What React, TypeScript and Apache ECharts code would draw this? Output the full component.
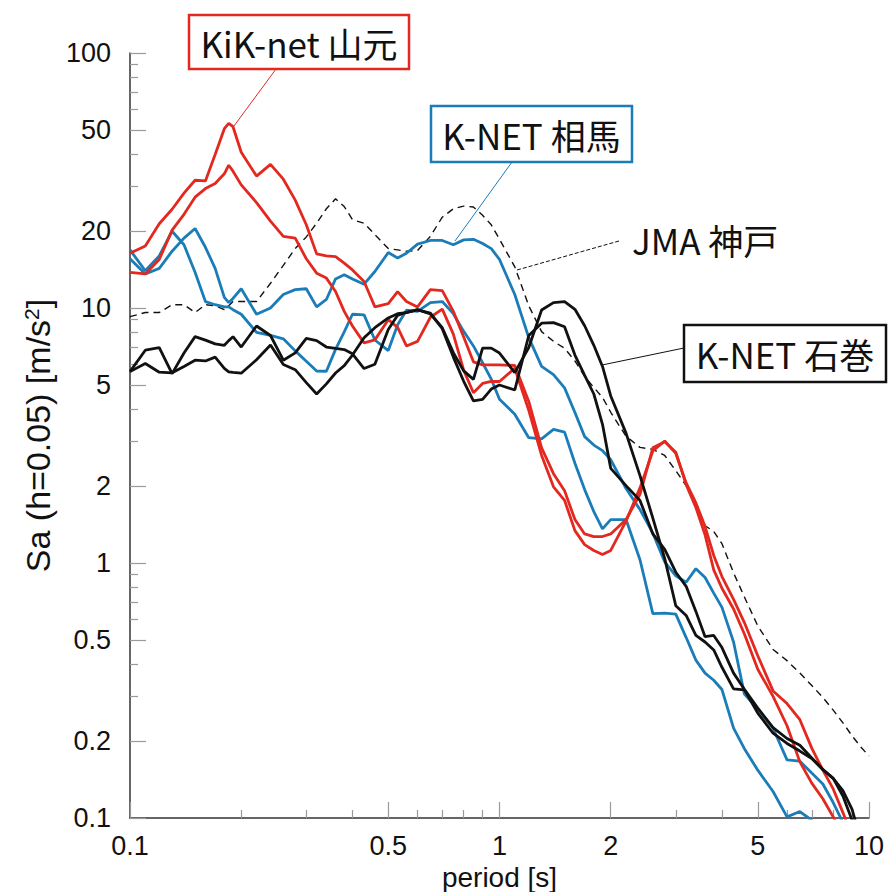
import React, { useEffect, useRef } from 'react';
import * as echarts from 'echarts';

// Periods [s] shared by all spectra
const periods = [
  0.1, 0.11, 0.12, 0.13, 0.14, 0.15, 0.16, 0.17, 0.18, 0.185, 0.19,
  0.2, 0.22, 0.24, 0.26, 0.28, 0.3, 0.32, 0.34, 0.36, 0.38,
  0.4, 0.43, 0.46, 0.5, 0.53, 0.56, 0.6, 0.65, 0.7, 0.75, 0.8, 0.85, 0.9, 0.95,
  1.0, 1.1, 1.2, 1.3, 1.4, 1.5, 1.6, 1.7, 1.8, 1.9,
  2.0, 2.2, 2.4, 2.6, 2.8, 3.0, 3.2, 3.4, 3.6, 3.8,
  4.0, 4.3, 4.6, 5.0, 5.5, 6.0, 6.5, 7.0, 7.5, 8.0, 8.5, 9.0, 9.5, 10,
];

// KiK-net 山元 (two components)
const yamamotoA = [
  16.4, 17.5, 21.4, 24.4, 28.2, 31.7, 31.5, 40, 50.5, 53.0, 51.4,
  40.8, 32.9, 36.6, 32, 26.5, 21.2, 16.3, 16.0, 15.9, 15.0,
  14.1, 12.7, 10.1, 10.4, 11.6, 10.6, 10.1, 11.8, 11.7, 9.7, 7.7, 6.15, 5.98, 5.98,
  5.98, 5.95, 4.3, 2.83, 2.24, 1.92, 1.48, 1.30, 1.27, 1.27,
  1.30, 1.48, 1.86, 2.83, 2.99, 2.72, 2.03, 1.65, 1.29, 0.94,
  0.796, 0.66, 0.527, 0.383, 0.30, 0.23, 0.166, 0.137, 0.119, 0.101, 0.086, 0.07, null, null,
];
const yamamotoB = [
  13.8, 13.6, 15.5, 20.2, 23.3, 27.2, 29.4, 30.8, 33.6, 36.3, 34.4,
  30.4, 25.9, 21.9, 19.1, 18.8, 15.6, 13.7, 13.1, 11.6, 9.7,
  8.5, 7.3, 7.5, 9.0, 8.4, 7.1, 7.4, 9.2, 9.9, 7.9, 5.7, 4.65, 5.06, 5.15,
  5.15, 5.8, 3.97, 2.64, 1.99, 1.76, 1.34, 1.18, 1.12, 1.08,
  1.12, 1.46, 1.97, 2.75, 3.01, 2.69, 2.06, 1.72, 1.39, 1.07,
  0.885, 0.72, 0.584, 0.433, 0.315, 0.281, 0.243, 0.188, 0.154, 0.13, 0.105, 0.085, null, null,
];

// K-NET 相馬
const somaA = [
  16.9, 14.0, 16.0, 20.0, 17.7, 13.8, 10.6, 10.3, 10.1, 10.1, 9.85,
  9.45, 8.03, 7.81, 7.57, 6.79, 6.18, 5.66, 5.65, 6.88, 8.06,
  9.45, 9.4, 7.49, 6.81, 8.6, 9.8, 9.7, 10.5, 10.6, 9.5, 8.1, 7.1, 6.1, 5.26,
  4.39, 3.83, 3.1, 3.07, 3.34, 3.26, 2.46, 1.94, 1.59, 1.36,
  1.48, 1.48, 1.03, 0.633, 0.636, 0.63, 0.51, 0.416, 0.37, 0.347,
  0.319, 0.225, 0.187, 0.154, 0.127, 0.101, 0.106, 0.098, 0.085, 0.07, null, null, null, null,
];
const somaB = [
  15.6, 13.6, 14.3, 16.7, 18.8, 20.5, 17.3, 14.3, 11.0, 10.5, 10.9,
  11.9, 9.45, 10.0, 11.3, 11.8, 11.9, 10.1, 10.8, 13.0, 13.5,
  13.0, 12.4, 13.9, 16.5, 15.7, 16.4, 17.8, 18.4, 18.4, 17.7, 18.5, 18.6, 17.9, 17.1,
  15.5, 11.3, 7.65, 5.9, 5.48, 4.86, 3.89, 3.13, 2.9, 2.76,
  2.54, 1.96, 1.62, 1.31, 1.01, 0.89, 0.84, 0.95, 0.877, 0.762,
  0.67, 0.49, 0.306, 0.268, 0.225, 0.169, 0.167, 0.15, 0.136, 0.115, 0.096, 0.08, null, null,
];

// K-NET 石巻
const ishinomakiA = [
  5.63, 6.83, 6.99, 5.53, 6.66, 7.72, 7.48, 7.23, 7.14, 7.45, 7.72,
  7.03, 8.5, 7.8, 6.24, 6.67, 7.6, 7.45, 7.03, 6.94, 6.87,
  6.61, 5.79, 6.02, 8.24, 9.36, 9.62, 9.84, 9.55, 8.3, 6.42, 5.16, 4.32, 4.38, 4.81,
  4.99, 4.77, 7.8, 8.72, 8.76, 8.44, 6.54, 5.44, 4.6, 3.5,
  2.35, 2.01, 1.76, 1.30, 1.13, 0.92, 0.81, 0.646, 0.514, 0.52,
  0.466, 0.37, 0.32, 0.27, 0.226, 0.205, 0.193, 0.172, 0.155, 0.143, 0.128, 0.108, 0.082, null,
];
const ishinomakiB = [
  5.63, 6.06, 5.6, 5.57, 5.9, 6.24, 6.2, 6.42, 5.8, 5.62, 5.59,
  5.55, 6.27, 7.16, 6.0, 5.73, 5.1, 4.6, 5.04, 5.56, 5.94,
  6.54, 7.64, 8.37, 9.14, 9.5, 9.6, 9.85, 9.47, 8.37, 6.68, 5.67, 5.25, 6.96, 6.96,
  6.66, 5.58, 7.0, 9.82, 10.5, 10.6, 9.88, 8.52, 7.14, 5.9,
  4.52, 3.23, 2.2, 1.5, 1.04, 0.68, 0.623, 0.52, 0.49, 0.456,
  0.39, 0.321, 0.318, 0.258, 0.215, 0.196, 0.183, 0.171, 0.155, 0.143, 0.122, 0.098, null, null,
];

// JMA 神戸
const kobe = [
  9.25, 9.6, 9.6, 10.3, 10.3, 9.6, 10.3, 10.2, 9.85, 10.2, 10.6,
  10.6, 10.6, 12.5, 14.7, 17.1, 19, 21.5, 24.5, 26.8, 25,
  22.2, 21.5, 19.4, 17.1, 16.9, 16.7, 16.8, 19.1, 22.7, 24.5, 25.1, 24.9, 23.1, 21.2,
  18.6, 14.5, 10.2, 8.08, 7.4, 6.95, 6.2, 5.39, 4.88, 4.46,
  3.9, 3.14, 2.84, 2.79, 2.64, 2.3, 2.01, 1.73, 1.4, 1.33,
  1.19, 0.915, 0.736, 0.567, 0.458, 0.414, 0.37, 0.331, 0.297, 0.265, 0.236, 0.21, 0.19, 0.175,
];

const xMajorTicks = [0.1, 0.5, 1, 2, 5, 10];
const xMinorTicks = [0.2, 0.3, 0.4, 0.6, 0.7, 0.8, 0.9, 3, 4, 6, 7, 8, 9];
const yMajorTicks = [0.1, 0.2, 0.5, 1, 2, 5, 10, 20, 50, 100];
const yMinorTicks = [0.3, 0.4, 0.6, 0.7, 0.8, 0.9, 3, 4, 6, 7, 8, 9, 30, 40, 60, 70, 80, 90];

const RED = '#e3291f';
const BLUE = '#1b7db8';
const BLACK = '#111111';
const TICK = '#9a9a9a';
const AXIS = '#333333';
const LATIN = '"Liberation Sans", Arial, sans-serif';
const JP = '"Noto Sans CJK JP", "Noto Sans", sans-serif';

function pairs(vals: (number | null)[]) {
  const out: number[][] = [];
  periods.forEach((p, i) => {
    const v = vals[i];
    if (v != null) out.push([p, v]);
  });
  return out;
}

function fmt(v: number) {
  return String(Number(Number(v).toPrecision(3)));
}

function lineSeries(name: string, vals: (number | null)[], color: string, dashed = false) {
  return {
    name,
    type: 'line',
    xAxisIndex: 0,
    yAxisIndex: 0,
    data: pairs(vals),
    showSymbol: false,
    symbol: 'none',
    clip: true,
    lineStyle: dashed
      ? { color, width: 1.4, type: [7, 5] }
      : { color, width: 2.8 },
    z: dashed ? 2 : 3,
  };
}

export default function App() {
  const ref = useRef<HTMLDivElement>(null);

  useEffect(() => {
    if (!ref.current) return;
    const chart = echarts.init(ref.current, undefined, { renderer: 'svg' });
    const option: any = {
      animation: false,
      backgroundColor: '#ffffff',
      grid: { left: 130, right: 23, top: 53, bottom: 74, containLabel: false, outerBoundsMode: 'none' },
      xAxis: [
        {
          type: 'log',
          logBase: 10,
          min: 0.1,
          max: 10,
          position: 'bottom',
          name: 'period [s]',
          nameLocation: 'middle',
          nameGap: 42,
          nameTextStyle: { fontFamily: LATIN, fontSize: 28, color: BLACK },
          axisLine: { show: true, lineStyle: { color: AXIS, width: 1.5 } },
          axisTick: { show: true, inside: true, length: 16, customValues: xMajorTicks, lineStyle: { color: TICK, width: 1.2 } },
          axisLabel: { show: true, customValues: xMajorTicks, formatter: fmt, margin: 14, fontFamily: LATIN, fontSize: 27, color: BLACK },
          splitLine: { show: false },
          minorTick: { show: false },
        },
        {
          type: 'log',
          logBase: 10,
          min: 0.1,
          max: 10,
          position: 'bottom',
          axisLine: { show: false },
          axisTick: { show: true, inside: true, length: 8, customValues: xMinorTicks, lineStyle: { color: TICK, width: 1.2 } },
          axisLabel: { show: false },
          splitLine: { show: false },
        },
      ],
      yAxis: [
        {
          type: 'log',
          logBase: 10,
          min: 0.1,
          max: 100,
          position: 'left',
          name: '{n|Sa (h=0.05) [m/s}{s|2}{n|]}',
          nameLocation: 'middle',
          nameGap: 68,
          nameRotate: 90,
          nameTextStyle: {
            color: BLACK,
            rich: {
              n: { fontFamily: LATIN, fontSize: 34, color: BLACK },
              s: { fontFamily: LATIN, fontSize: 21, color: BLACK, verticalAlign: 'top' },
            },
          },
          axisLine: { show: true, lineStyle: { color: AXIS, width: 1.5 } },
          axisTick: { show: true, inside: true, length: 16, customValues: yMajorTicks, lineStyle: { color: TICK, width: 1.2 } },
          axisLabel: { show: true, customValues: yMajorTicks, formatter: fmt, margin: 19, fontFamily: LATIN, fontSize: 27, color: BLACK },
          splitLine: { show: false },
        },
        {
          type: 'log',
          logBase: 10,
          min: 0.1,
          max: 100,
          position: 'left',
          axisLine: { show: false },
          axisTick: { show: true, inside: true, length: 8, customValues: yMinorTicks, lineStyle: { color: TICK, width: 1.2 } },
          axisLabel: { show: false },
          splitLine: { show: false },
        },
      ],
      series: [
        lineSeries('JMA 神戸', kobe, BLACK, true),
        lineSeries('K-NET 相馬 A', somaA, BLUE),
        lineSeries('K-NET 相馬 B', somaB, BLUE),
        lineSeries('KiK-net 山元 A', yamamotoA, RED),
        lineSeries('KiK-net 山元 B', yamamotoB, RED),
        lineSeries('K-NET 石巻 A', ishinomakiA, BLACK),
        lineSeries('K-NET 石巻 B', ishinomakiB, BLACK),
      ],
      graphic: [
        // KiK-net 山元
        { type: 'line', z: 100, shape: { x1: 276, y1: 69, x2: 234, y2: 126 }, style: { stroke: RED, lineWidth: 1 } },
        { type: 'rect', z: 100, shape: { x: 189, y: 15, width: 220, height: 54 }, style: { fill: '#ffffff', stroke: RED, lineWidth: 2.5 } },
        { type: 'text', z: 101, x: 299, y: 42, style: { text: 'KiK-net 山元', fontFamily: JP, fontSize: 35, fill: BLACK, align: 'center', verticalAlign: 'middle', textAlign: 'center', textVerticalAlign: 'middle' } },
        // K-NET 相馬
        { type: 'line', z: 100, shape: { x1: 512, y1: 162, x2: 455, y2: 241 }, style: { stroke: BLUE, lineWidth: 1 } },
        { type: 'rect', z: 100, shape: { x: 431, y: 106, width: 201, height: 56 }, style: { fill: '#ffffff', stroke: BLUE, lineWidth: 2.5 } },
        { type: 'text', z: 101, x: 531.5, y: 134, style: { text: 'K-NET 相馬', fontFamily: JP, fontSize: 35, fill: BLACK, align: 'center', verticalAlign: 'middle', textAlign: 'center', textVerticalAlign: 'middle' } },
        // JMA 神戸
        { type: 'line', z: 100, shape: { x1: 619, y1: 241, x2: 517, y2: 270 }, style: { stroke: BLACK, lineWidth: 1, lineDash: [4, 2] } },
        { type: 'text', z: 101, x: 632, y: 239, style: { text: 'JMA 神戸', fontFamily: JP, fontSize: 35, fill: BLACK, align: 'left', verticalAlign: 'middle', textAlign: 'left', textVerticalAlign: 'middle' } },
        // K-NET 石巻
        { type: 'line', z: 100, shape: { x1: 684, y1: 348, x2: 602, y2: 365 }, style: { stroke: BLACK, lineWidth: 1 } },
        { type: 'rect', z: 100, shape: { x: 684, y: 325, width: 202, height: 57 }, style: { fill: '#ffffff', stroke: BLACK, lineWidth: 2.5 } },
        { type: 'text', z: 101, x: 785, y: 353.5, style: { text: 'K-NET 石巻', fontFamily: JP, fontSize: 35, fill: BLACK, align: 'center', verticalAlign: 'middle', textAlign: 'center', textVerticalAlign: 'middle' } },
      ],
    };
    chart.setOption(option);
    return () => {
      chart.dispose();
    };
  }, []);

  return (
    <div
      ref={ref}
      style={{ position: 'fixed', left: 0, top: 0, width: 892, height: 892, background: '#fff' }}
    />
  );
}
